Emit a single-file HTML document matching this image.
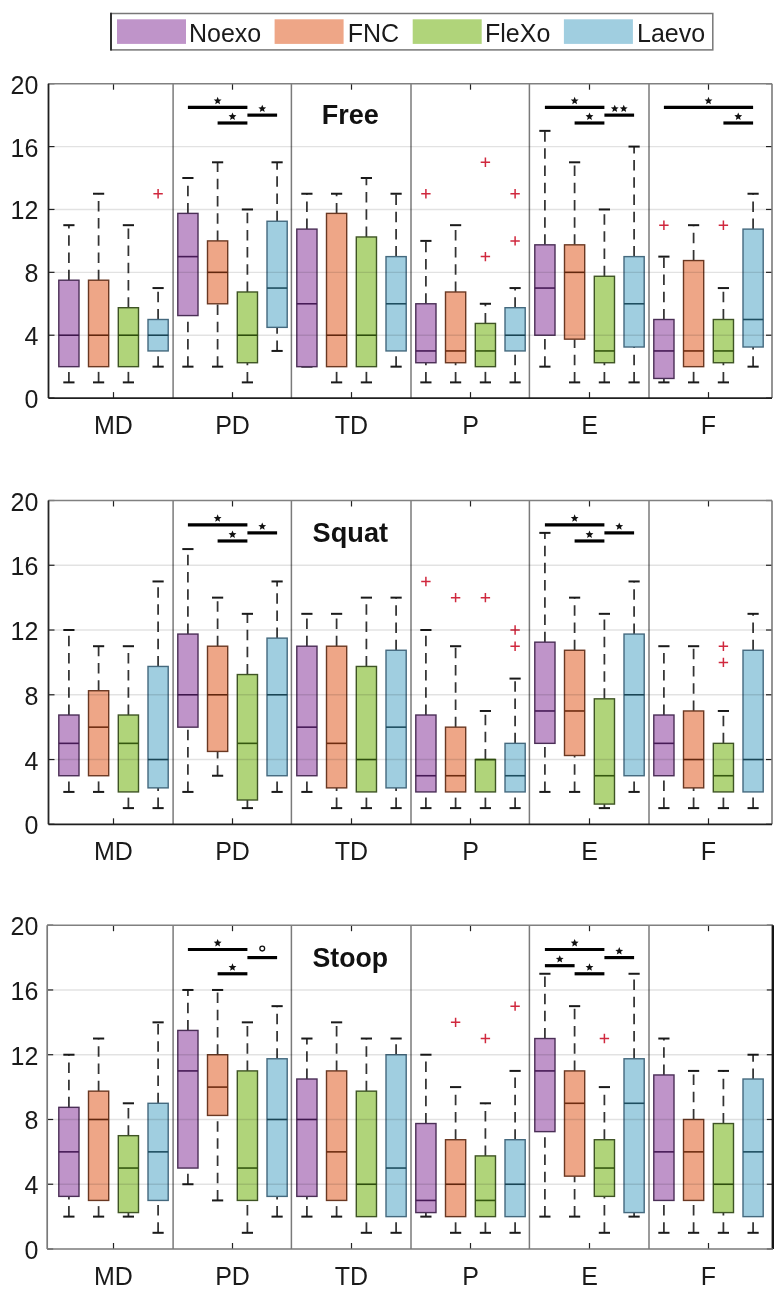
<!DOCTYPE html>
<html><head><meta charset="utf-8"><style>
html,body{margin:0;padding:0;background:#fff;}
svg{display:block;will-change:transform;}
.lab{font-family:"Liberation Sans",sans-serif;font-size:25px;fill:#1a1a1a;}
.ttl{font-family:"Liberation Sans",sans-serif;font-size:28px;font-weight:bold;fill:#111;}
</style></head><body>
<svg width="782" height="1293" viewBox="0 0 782 1293">
<rect width="782" height="1293" fill="#fff"/>
<rect x="111" y="13.5" width="601.8" height="36.4" fill="#fff" stroke="#777" stroke-width="1.5"/>
<line x1="111" y1="12.8" x2="111" y2="50.6" stroke="#222" stroke-width="1.7"/>
<rect x="117" y="19.3" width="69" height="24.6" fill="#BF94C9"/>
<text x="189" y="41.6" class="lab">Noexo</text>
<rect x="274.6" y="19.3" width="69" height="24.6" fill="#EEA687"/>
<text x="347.8" y="41.6" class="lab">FNC</text>
<rect x="412.7" y="19.3" width="69" height="24.6" fill="#B0D47A"/>
<text x="485" y="41.6" class="lab">FleXo</text>
<rect x="563.9" y="19.3" width="69" height="24.6" fill="#A0CEE0"/>
<text x="637" y="41.6" class="lab">Laevo</text>
<line x1="173.1" y1="83.7" x2="173.1" y2="398.1" stroke="#7a7a7a" stroke-width="1.5"/>
<line x1="291.4" y1="83.7" x2="291.4" y2="398.1" stroke="#7a7a7a" stroke-width="1.5"/>
<line x1="411" y1="83.7" x2="411" y2="398.1" stroke="#7a7a7a" stroke-width="1.5"/>
<line x1="529.4" y1="83.7" x2="529.4" y2="398.1" stroke="#7a7a7a" stroke-width="1.5"/>
<line x1="649" y1="83.7" x2="649" y2="398.1" stroke="#7a7a7a" stroke-width="1.5"/>
<line x1="68.9" y1="280.2" x2="68.9" y2="225.18" stroke="#333333" stroke-width="1.75" stroke-dasharray="10.5 6.7"/>
<line x1="68.9" y1="382.38" x2="68.9" y2="366.66" stroke="#333333" stroke-width="1.75" stroke-dasharray="10.5 6.7"/>
<line x1="63.3" y1="225.18" x2="74.5" y2="225.18" stroke="#1a1a1a" stroke-width="2"/>
<line x1="63.3" y1="382.38" x2="74.5" y2="382.38" stroke="#1a1a1a" stroke-width="2"/>
<rect x="58.8" y="280.2" width="20.2" height="86.46" fill="#BF94C9" stroke="#4A2E56" stroke-width="1.4"/>
<line x1="58.8" y1="335.22" x2="79" y2="335.22" stroke="#461a56" stroke-width="1.6"/>
<line x1="98.6" y1="280.2" x2="98.6" y2="193.74" stroke="#333333" stroke-width="1.75" stroke-dasharray="10.5 6.7"/>
<line x1="98.6" y1="382.38" x2="98.6" y2="366.66" stroke="#333333" stroke-width="1.75" stroke-dasharray="10.5 6.7"/>
<line x1="93" y1="193.74" x2="104.2" y2="193.74" stroke="#1a1a1a" stroke-width="2"/>
<line x1="93" y1="382.38" x2="104.2" y2="382.38" stroke="#1a1a1a" stroke-width="2"/>
<rect x="88.5" y="280.2" width="20.2" height="86.46" fill="#EEA687" stroke="#6A3822" stroke-width="1.4"/>
<line x1="88.5" y1="335.22" x2="108.7" y2="335.22" stroke="#6E2C10" stroke-width="1.6"/>
<line x1="128.4" y1="307.71" x2="128.4" y2="225.18" stroke="#333333" stroke-width="1.75" stroke-dasharray="10.5 6.7"/>
<line x1="128.4" y1="382.38" x2="128.4" y2="366.66" stroke="#333333" stroke-width="1.75" stroke-dasharray="10.5 6.7"/>
<line x1="122.8" y1="225.18" x2="134" y2="225.18" stroke="#1a1a1a" stroke-width="2"/>
<line x1="122.8" y1="382.38" x2="134" y2="382.38" stroke="#1a1a1a" stroke-width="2"/>
<rect x="118.3" y="307.71" width="20.2" height="58.95" fill="#B0D47A" stroke="#3E5424" stroke-width="1.4"/>
<line x1="118.3" y1="335.22" x2="138.5" y2="335.22" stroke="#35580F" stroke-width="1.6"/>
<line x1="158.1" y1="319.5" x2="158.1" y2="288.06" stroke="#333333" stroke-width="1.75" stroke-dasharray="10.5 6.7"/>
<line x1="158.1" y1="366.66" x2="158.1" y2="350.94" stroke="#333333" stroke-width="1.75" stroke-dasharray="10.5 6.7"/>
<line x1="152.5" y1="288.06" x2="163.7" y2="288.06" stroke="#1a1a1a" stroke-width="2"/>
<line x1="152.5" y1="366.66" x2="163.7" y2="366.66" stroke="#1a1a1a" stroke-width="2"/>
<rect x="148" y="319.5" width="20.2" height="31.44" fill="#A0CEE0" stroke="#44697E" stroke-width="1.4"/>
<line x1="148" y1="335.22" x2="168.2" y2="335.22" stroke="#1E4E60" stroke-width="1.6"/>
<path d="M153.4 193.74h9.4M158.1 189.04v9.4" stroke="#D0283E" stroke-width="1.5" fill="none"/>
<line x1="187.9" y1="213.39" x2="187.9" y2="178.02" stroke="#333333" stroke-width="1.75" stroke-dasharray="10.5 6.7"/>
<line x1="187.9" y1="366.66" x2="187.9" y2="315.57" stroke="#333333" stroke-width="1.75" stroke-dasharray="10.5 6.7"/>
<line x1="182.3" y1="178.02" x2="193.5" y2="178.02" stroke="#1a1a1a" stroke-width="2"/>
<line x1="182.3" y1="366.66" x2="193.5" y2="366.66" stroke="#1a1a1a" stroke-width="2"/>
<rect x="177.8" y="213.39" width="20.2" height="102.18" fill="#BF94C9" stroke="#4A2E56" stroke-width="1.4"/>
<line x1="177.8" y1="256.62" x2="198" y2="256.62" stroke="#461a56" stroke-width="1.6"/>
<line x1="217.6" y1="240.9" x2="217.6" y2="162.3" stroke="#333333" stroke-width="1.75" stroke-dasharray="10.5 6.7"/>
<line x1="217.6" y1="366.66" x2="217.6" y2="303.78" stroke="#333333" stroke-width="1.75" stroke-dasharray="10.5 6.7"/>
<line x1="212" y1="162.3" x2="223.2" y2="162.3" stroke="#1a1a1a" stroke-width="2"/>
<line x1="212" y1="366.66" x2="223.2" y2="366.66" stroke="#1a1a1a" stroke-width="2"/>
<rect x="207.5" y="240.9" width="20.2" height="62.88" fill="#EEA687" stroke="#6A3822" stroke-width="1.4"/>
<line x1="207.5" y1="272.34" x2="227.7" y2="272.34" stroke="#6E2C10" stroke-width="1.6"/>
<line x1="247.4" y1="291.99" x2="247.4" y2="209.46" stroke="#333333" stroke-width="1.75" stroke-dasharray="10.5 6.7"/>
<line x1="247.4" y1="382.38" x2="247.4" y2="362.73" stroke="#333333" stroke-width="1.75" stroke-dasharray="10.5 6.7"/>
<line x1="241.8" y1="209.46" x2="253" y2="209.46" stroke="#1a1a1a" stroke-width="2"/>
<line x1="241.8" y1="382.38" x2="253" y2="382.38" stroke="#1a1a1a" stroke-width="2"/>
<rect x="237.3" y="291.99" width="20.2" height="70.74" fill="#B0D47A" stroke="#3E5424" stroke-width="1.4"/>
<line x1="237.3" y1="335.22" x2="257.5" y2="335.22" stroke="#35580F" stroke-width="1.6"/>
<line x1="277.1" y1="221.25" x2="277.1" y2="162.3" stroke="#333333" stroke-width="1.75" stroke-dasharray="10.5 6.7"/>
<line x1="277.1" y1="350.94" x2="277.1" y2="327.36" stroke="#333333" stroke-width="1.75" stroke-dasharray="10.5 6.7"/>
<line x1="271.5" y1="162.3" x2="282.7" y2="162.3" stroke="#1a1a1a" stroke-width="2"/>
<line x1="271.5" y1="350.94" x2="282.7" y2="350.94" stroke="#1a1a1a" stroke-width="2"/>
<rect x="267" y="221.25" width="20.2" height="106.11" fill="#A0CEE0" stroke="#44697E" stroke-width="1.4"/>
<line x1="267" y1="288.06" x2="287.2" y2="288.06" stroke="#1E4E60" stroke-width="1.6"/>
<line x1="306.9" y1="229.11" x2="306.9" y2="193.74" stroke="#333333" stroke-width="1.75" stroke-dasharray="10.5 6.7"/>
<line x1="301.3" y1="193.74" x2="312.5" y2="193.74" stroke="#1a1a1a" stroke-width="2"/>
<line x1="301.3" y1="366.66" x2="312.5" y2="366.66" stroke="#1a1a1a" stroke-width="2"/>
<rect x="296.8" y="229.11" width="20.2" height="137.55" fill="#BF94C9" stroke="#4A2E56" stroke-width="1.4"/>
<line x1="296.8" y1="303.78" x2="317" y2="303.78" stroke="#461a56" stroke-width="1.6"/>
<line x1="336.6" y1="213.39" x2="336.6" y2="193.74" stroke="#333333" stroke-width="1.75" stroke-dasharray="10.5 6.7"/>
<line x1="336.6" y1="382.38" x2="336.6" y2="366.66" stroke="#333333" stroke-width="1.75" stroke-dasharray="10.5 6.7"/>
<line x1="331" y1="193.74" x2="342.2" y2="193.74" stroke="#1a1a1a" stroke-width="2"/>
<line x1="331" y1="382.38" x2="342.2" y2="382.38" stroke="#1a1a1a" stroke-width="2"/>
<rect x="326.5" y="213.39" width="20.2" height="153.27" fill="#EEA687" stroke="#6A3822" stroke-width="1.4"/>
<line x1="326.5" y1="335.22" x2="346.7" y2="335.22" stroke="#6E2C10" stroke-width="1.6"/>
<line x1="366.4" y1="236.97" x2="366.4" y2="178.02" stroke="#333333" stroke-width="1.75" stroke-dasharray="10.5 6.7"/>
<line x1="366.4" y1="382.38" x2="366.4" y2="366.66" stroke="#333333" stroke-width="1.75" stroke-dasharray="10.5 6.7"/>
<line x1="360.8" y1="178.02" x2="372" y2="178.02" stroke="#1a1a1a" stroke-width="2"/>
<line x1="360.8" y1="382.38" x2="372" y2="382.38" stroke="#1a1a1a" stroke-width="2"/>
<rect x="356.3" y="236.97" width="20.2" height="129.69" fill="#B0D47A" stroke="#3E5424" stroke-width="1.4"/>
<line x1="356.3" y1="335.22" x2="376.5" y2="335.22" stroke="#35580F" stroke-width="1.6"/>
<line x1="396.1" y1="256.62" x2="396.1" y2="193.74" stroke="#333333" stroke-width="1.75" stroke-dasharray="10.5 6.7"/>
<line x1="396.1" y1="366.66" x2="396.1" y2="350.94" stroke="#333333" stroke-width="1.75" stroke-dasharray="10.5 6.7"/>
<line x1="390.5" y1="193.74" x2="401.7" y2="193.74" stroke="#1a1a1a" stroke-width="2"/>
<line x1="390.5" y1="366.66" x2="401.7" y2="366.66" stroke="#1a1a1a" stroke-width="2"/>
<rect x="386" y="256.62" width="20.2" height="94.32" fill="#A0CEE0" stroke="#44697E" stroke-width="1.4"/>
<line x1="386" y1="303.78" x2="406.2" y2="303.78" stroke="#1E4E60" stroke-width="1.6"/>
<line x1="425.9" y1="303.78" x2="425.9" y2="240.9" stroke="#333333" stroke-width="1.75" stroke-dasharray="10.5 6.7"/>
<line x1="425.9" y1="382.38" x2="425.9" y2="362.73" stroke="#333333" stroke-width="1.75" stroke-dasharray="10.5 6.7"/>
<line x1="420.3" y1="240.9" x2="431.5" y2="240.9" stroke="#1a1a1a" stroke-width="2"/>
<line x1="420.3" y1="382.38" x2="431.5" y2="382.38" stroke="#1a1a1a" stroke-width="2"/>
<rect x="415.8" y="303.78" width="20.2" height="58.95" fill="#BF94C9" stroke="#4A2E56" stroke-width="1.4"/>
<line x1="415.8" y1="350.94" x2="436" y2="350.94" stroke="#461a56" stroke-width="1.6"/>
<path d="M421.2 193.74h9.4M425.9 189.04v9.4" stroke="#D0283E" stroke-width="1.5" fill="none"/>
<line x1="455.6" y1="291.99" x2="455.6" y2="225.18" stroke="#333333" stroke-width="1.75" stroke-dasharray="10.5 6.7"/>
<line x1="455.6" y1="382.38" x2="455.6" y2="362.73" stroke="#333333" stroke-width="1.75" stroke-dasharray="10.5 6.7"/>
<line x1="450" y1="225.18" x2="461.2" y2="225.18" stroke="#1a1a1a" stroke-width="2"/>
<line x1="450" y1="382.38" x2="461.2" y2="382.38" stroke="#1a1a1a" stroke-width="2"/>
<rect x="445.5" y="291.99" width="20.2" height="70.74" fill="#EEA687" stroke="#6A3822" stroke-width="1.4"/>
<line x1="445.5" y1="350.94" x2="465.7" y2="350.94" stroke="#6E2C10" stroke-width="1.6"/>
<line x1="485.4" y1="323.43" x2="485.4" y2="303.78" stroke="#333333" stroke-width="1.75" stroke-dasharray="10.5 6.7"/>
<line x1="485.4" y1="382.38" x2="485.4" y2="366.66" stroke="#333333" stroke-width="1.75" stroke-dasharray="10.5 6.7"/>
<line x1="479.8" y1="303.78" x2="491" y2="303.78" stroke="#1a1a1a" stroke-width="2"/>
<line x1="479.8" y1="382.38" x2="491" y2="382.38" stroke="#1a1a1a" stroke-width="2"/>
<rect x="475.3" y="323.43" width="20.2" height="43.23" fill="#B0D47A" stroke="#3E5424" stroke-width="1.4"/>
<line x1="475.3" y1="350.94" x2="495.5" y2="350.94" stroke="#35580F" stroke-width="1.6"/>
<path d="M480.7 162.3h9.4M485.4 157.6v9.4" stroke="#D0283E" stroke-width="1.5" fill="none"/>
<path d="M480.7 256.62h9.4M485.4 251.92v9.4" stroke="#D0283E" stroke-width="1.5" fill="none"/>
<line x1="515.1" y1="307.71" x2="515.1" y2="288.06" stroke="#333333" stroke-width="1.75" stroke-dasharray="10.5 6.7"/>
<line x1="515.1" y1="382.38" x2="515.1" y2="350.94" stroke="#333333" stroke-width="1.75" stroke-dasharray="10.5 6.7"/>
<line x1="509.5" y1="288.06" x2="520.7" y2="288.06" stroke="#1a1a1a" stroke-width="2"/>
<line x1="509.5" y1="382.38" x2="520.7" y2="382.38" stroke="#1a1a1a" stroke-width="2"/>
<rect x="505" y="307.71" width="20.2" height="43.23" fill="#A0CEE0" stroke="#44697E" stroke-width="1.4"/>
<line x1="505" y1="335.22" x2="525.2" y2="335.22" stroke="#1E4E60" stroke-width="1.6"/>
<path d="M510.4 193.74h9.4M515.1 189.04v9.4" stroke="#D0283E" stroke-width="1.5" fill="none"/>
<path d="M510.4 240.9h9.4M515.1 236.2v9.4" stroke="#D0283E" stroke-width="1.5" fill="none"/>
<line x1="544.9" y1="244.83" x2="544.9" y2="130.86" stroke="#333333" stroke-width="1.75" stroke-dasharray="10.5 6.7"/>
<line x1="544.9" y1="366.66" x2="544.9" y2="335.22" stroke="#333333" stroke-width="1.75" stroke-dasharray="10.5 6.7"/>
<line x1="539.3" y1="130.86" x2="550.5" y2="130.86" stroke="#1a1a1a" stroke-width="2"/>
<line x1="539.3" y1="366.66" x2="550.5" y2="366.66" stroke="#1a1a1a" stroke-width="2"/>
<rect x="534.8" y="244.83" width="20.2" height="90.39" fill="#BF94C9" stroke="#4A2E56" stroke-width="1.4"/>
<line x1="534.8" y1="288.06" x2="555" y2="288.06" stroke="#461a56" stroke-width="1.6"/>
<line x1="574.6" y1="244.83" x2="574.6" y2="162.3" stroke="#333333" stroke-width="1.75" stroke-dasharray="10.5 6.7"/>
<line x1="574.6" y1="382.38" x2="574.6" y2="339.15" stroke="#333333" stroke-width="1.75" stroke-dasharray="10.5 6.7"/>
<line x1="569" y1="162.3" x2="580.2" y2="162.3" stroke="#1a1a1a" stroke-width="2"/>
<line x1="569" y1="382.38" x2="580.2" y2="382.38" stroke="#1a1a1a" stroke-width="2"/>
<rect x="564.5" y="244.83" width="20.2" height="94.32" fill="#EEA687" stroke="#6A3822" stroke-width="1.4"/>
<line x1="564.5" y1="272.34" x2="584.7" y2="272.34" stroke="#6E2C10" stroke-width="1.6"/>
<line x1="604.4" y1="276.27" x2="604.4" y2="209.46" stroke="#333333" stroke-width="1.75" stroke-dasharray="10.5 6.7"/>
<line x1="604.4" y1="382.38" x2="604.4" y2="362.73" stroke="#333333" stroke-width="1.75" stroke-dasharray="10.5 6.7"/>
<line x1="598.8" y1="209.46" x2="610" y2="209.46" stroke="#1a1a1a" stroke-width="2"/>
<line x1="598.8" y1="382.38" x2="610" y2="382.38" stroke="#1a1a1a" stroke-width="2"/>
<rect x="594.3" y="276.27" width="20.2" height="86.46" fill="#B0D47A" stroke="#3E5424" stroke-width="1.4"/>
<line x1="594.3" y1="350.94" x2="614.5" y2="350.94" stroke="#35580F" stroke-width="1.6"/>
<line x1="634.1" y1="256.62" x2="634.1" y2="146.58" stroke="#333333" stroke-width="1.75" stroke-dasharray="10.5 6.7"/>
<line x1="634.1" y1="382.38" x2="634.1" y2="347.01" stroke="#333333" stroke-width="1.75" stroke-dasharray="10.5 6.7"/>
<line x1="628.5" y1="146.58" x2="639.7" y2="146.58" stroke="#1a1a1a" stroke-width="2"/>
<line x1="628.5" y1="382.38" x2="639.7" y2="382.38" stroke="#1a1a1a" stroke-width="2"/>
<rect x="624" y="256.62" width="20.2" height="90.39" fill="#A0CEE0" stroke="#44697E" stroke-width="1.4"/>
<line x1="624" y1="303.78" x2="644.2" y2="303.78" stroke="#1E4E60" stroke-width="1.6"/>
<line x1="663.9" y1="319.5" x2="663.9" y2="256.62" stroke="#333333" stroke-width="1.75" stroke-dasharray="10.5 6.7"/>
<line x1="663.9" y1="382.38" x2="663.9" y2="378.45" stroke="#333333" stroke-width="1.75" stroke-dasharray="10.5 6.7"/>
<line x1="658.3" y1="256.62" x2="669.5" y2="256.62" stroke="#1a1a1a" stroke-width="2"/>
<line x1="658.3" y1="382.38" x2="669.5" y2="382.38" stroke="#1a1a1a" stroke-width="2"/>
<rect x="653.8" y="319.5" width="20.2" height="58.95" fill="#BF94C9" stroke="#4A2E56" stroke-width="1.4"/>
<line x1="653.8" y1="350.94" x2="674" y2="350.94" stroke="#461a56" stroke-width="1.6"/>
<path d="M659.2 225.18h9.4M663.9 220.48v9.4" stroke="#D0283E" stroke-width="1.5" fill="none"/>
<line x1="693.6" y1="260.55" x2="693.6" y2="225.18" stroke="#333333" stroke-width="1.75" stroke-dasharray="10.5 6.7"/>
<line x1="693.6" y1="382.38" x2="693.6" y2="366.66" stroke="#333333" stroke-width="1.75" stroke-dasharray="10.5 6.7"/>
<line x1="688" y1="225.18" x2="699.2" y2="225.18" stroke="#1a1a1a" stroke-width="2"/>
<line x1="688" y1="382.38" x2="699.2" y2="382.38" stroke="#1a1a1a" stroke-width="2"/>
<rect x="683.5" y="260.55" width="20.2" height="106.11" fill="#EEA687" stroke="#6A3822" stroke-width="1.4"/>
<line x1="683.5" y1="350.94" x2="703.7" y2="350.94" stroke="#6E2C10" stroke-width="1.6"/>
<line x1="723.4" y1="319.5" x2="723.4" y2="288.06" stroke="#333333" stroke-width="1.75" stroke-dasharray="10.5 6.7"/>
<line x1="723.4" y1="382.38" x2="723.4" y2="362.73" stroke="#333333" stroke-width="1.75" stroke-dasharray="10.5 6.7"/>
<line x1="717.8" y1="288.06" x2="729" y2="288.06" stroke="#1a1a1a" stroke-width="2"/>
<line x1="717.8" y1="382.38" x2="729" y2="382.38" stroke="#1a1a1a" stroke-width="2"/>
<rect x="713.3" y="319.5" width="20.2" height="43.23" fill="#B0D47A" stroke="#3E5424" stroke-width="1.4"/>
<line x1="713.3" y1="350.94" x2="733.5" y2="350.94" stroke="#35580F" stroke-width="1.6"/>
<path d="M718.7 225.18h9.4M723.4 220.48v9.4" stroke="#D0283E" stroke-width="1.5" fill="none"/>
<line x1="753.1" y1="229.11" x2="753.1" y2="193.74" stroke="#333333" stroke-width="1.75" stroke-dasharray="10.5 6.7"/>
<line x1="753.1" y1="366.66" x2="753.1" y2="347.01" stroke="#333333" stroke-width="1.75" stroke-dasharray="10.5 6.7"/>
<line x1="747.5" y1="193.74" x2="758.7" y2="193.74" stroke="#1a1a1a" stroke-width="2"/>
<line x1="747.5" y1="366.66" x2="758.7" y2="366.66" stroke="#1a1a1a" stroke-width="2"/>
<rect x="743" y="229.11" width="20.2" height="117.9" fill="#A0CEE0" stroke="#44697E" stroke-width="1.4"/>
<line x1="743" y1="319.5" x2="763.2" y2="319.5" stroke="#1E4E60" stroke-width="1.6"/>
<line x1="48.5" y1="335.22" x2="772" y2="335.22" stroke="#000" stroke-opacity="0.115" stroke-width="1.4"/>
<line x1="48.5" y1="272.34" x2="772" y2="272.34" stroke="#000" stroke-opacity="0.115" stroke-width="1.4"/>
<line x1="48.5" y1="209.46" x2="772" y2="209.46" stroke="#000" stroke-opacity="0.115" stroke-width="1.4"/>
<line x1="48.5" y1="146.58" x2="772" y2="146.58" stroke="#000" stroke-opacity="0.115" stroke-width="1.4"/>
<line x1="187.9" y1="107.28" x2="247.4" y2="107.28" stroke="#000" stroke-width="3.2"/>
<polygon points="217.65,96.78 218.73,99.39 221.55,99.61 219.4,101.45 220.06,104.2 217.65,102.72 215.24,104.2 215.9,101.45 213.75,99.61 216.57,99.39" fill="#111"/>
<line x1="217.6" y1="123" x2="247.4" y2="123" stroke="#000" stroke-width="3.2"/>
<polygon points="232.5,112.5 233.58,115.11 236.4,115.33 234.25,117.17 234.91,119.92 232.5,118.44 230.09,119.92 230.75,117.17 228.6,115.33 231.42,115.11" fill="#111"/>
<line x1="247.4" y1="115.14" x2="277.1" y2="115.14" stroke="#000" stroke-width="3.2"/>
<polygon points="262.25,104.64 263.33,107.25 266.15,107.47 264,109.31 264.66,112.06 262.25,110.58 259.84,112.06 260.5,109.31 258.35,107.47 261.17,107.25" fill="#111"/>
<line x1="544.9" y1="107.28" x2="604.4" y2="107.28" stroke="#000" stroke-width="3.2"/>
<polygon points="574.65,96.78 575.73,99.39 578.55,99.61 576.4,101.45 577.06,104.2 574.65,102.72 572.24,104.2 572.9,101.45 570.75,99.61 573.57,99.39" fill="#111"/>
<line x1="574.6" y1="123" x2="604.4" y2="123" stroke="#000" stroke-width="3.2"/>
<polygon points="589.5,112.5 590.58,115.11 593.4,115.33 591.25,117.17 591.91,119.92 589.5,118.44 587.09,119.92 587.75,117.17 585.6,115.33 588.42,115.11" fill="#111"/>
<line x1="604.4" y1="115.14" x2="634.1" y2="115.14" stroke="#000" stroke-width="3.2"/>
<polygon points="614.75,104.64 615.83,107.25 618.65,107.47 616.5,109.31 617.16,112.06 614.75,110.58 612.34,112.06 613,109.31 610.85,107.47 613.67,107.25" fill="#111"/>
<polygon points="623.75,104.64 624.83,107.25 627.65,107.47 625.5,109.31 626.16,112.06 623.75,110.58 621.34,112.06 622,109.31 619.85,107.47 622.67,107.25" fill="#111"/>
<line x1="663.9" y1="107.28" x2="753.1" y2="107.28" stroke="#000" stroke-width="3.2"/>
<polygon points="708.5,96.78 709.58,99.39 712.4,99.61 710.25,101.45 710.91,104.2 708.5,102.72 706.09,104.2 706.75,101.45 704.6,99.61 707.42,99.39" fill="#111"/>
<line x1="723.4" y1="123" x2="753.1" y2="123" stroke="#000" stroke-width="3.2"/>
<polygon points="738.25,112.5 739.33,115.11 742.15,115.33 740,117.17 740.66,119.92 738.25,118.44 735.84,119.92 736.5,117.17 734.35,115.33 737.17,115.11" fill="#111"/>
<line x1="48.5" y1="398.1" x2="54.5" y2="398.1" stroke="#222" stroke-width="1.2"/>
<line x1="766" y1="398.1" x2="772" y2="398.1" stroke="#222" stroke-width="1.2"/>
<line x1="48.5" y1="335.22" x2="54.5" y2="335.22" stroke="#222" stroke-width="1.2"/>
<line x1="766" y1="335.22" x2="772" y2="335.22" stroke="#222" stroke-width="1.2"/>
<line x1="48.5" y1="272.34" x2="54.5" y2="272.34" stroke="#222" stroke-width="1.2"/>
<line x1="766" y1="272.34" x2="772" y2="272.34" stroke="#222" stroke-width="1.2"/>
<line x1="48.5" y1="209.46" x2="54.5" y2="209.46" stroke="#222" stroke-width="1.2"/>
<line x1="766" y1="209.46" x2="772" y2="209.46" stroke="#222" stroke-width="1.2"/>
<line x1="48.5" y1="146.58" x2="54.5" y2="146.58" stroke="#222" stroke-width="1.2"/>
<line x1="766" y1="146.58" x2="772" y2="146.58" stroke="#222" stroke-width="1.2"/>
<line x1="48.5" y1="83.7" x2="54.5" y2="83.7" stroke="#222" stroke-width="1.2"/>
<line x1="766" y1="83.7" x2="772" y2="83.7" stroke="#222" stroke-width="1.2"/>
<line x1="113.5" y1="398.1" x2="113.5" y2="392.1" stroke="#222" stroke-width="1.2"/>
<line x1="113.5" y1="83.7" x2="113.5" y2="89.7" stroke="#222" stroke-width="1.2"/>
<line x1="232.5" y1="398.1" x2="232.5" y2="392.1" stroke="#222" stroke-width="1.2"/>
<line x1="232.5" y1="83.7" x2="232.5" y2="89.7" stroke="#222" stroke-width="1.2"/>
<line x1="351.5" y1="398.1" x2="351.5" y2="392.1" stroke="#222" stroke-width="1.2"/>
<line x1="351.5" y1="83.7" x2="351.5" y2="89.7" stroke="#222" stroke-width="1.2"/>
<line x1="470.5" y1="398.1" x2="470.5" y2="392.1" stroke="#222" stroke-width="1.2"/>
<line x1="470.5" y1="83.7" x2="470.5" y2="89.7" stroke="#222" stroke-width="1.2"/>
<line x1="589.5" y1="398.1" x2="589.5" y2="392.1" stroke="#222" stroke-width="1.2"/>
<line x1="589.5" y1="83.7" x2="589.5" y2="89.7" stroke="#222" stroke-width="1.2"/>
<line x1="708.5" y1="398.1" x2="708.5" y2="392.1" stroke="#222" stroke-width="1.2"/>
<line x1="708.5" y1="83.7" x2="708.5" y2="89.7" stroke="#222" stroke-width="1.2"/>
<line x1="48.5" y1="83.7" x2="772" y2="83.7" stroke="#808080" stroke-width="1.5"/>
<line x1="772" y1="83.7" x2="772" y2="398.1" stroke="#7a7a7a" stroke-width="1.6"/>
<line x1="48.5" y1="398.1" x2="772" y2="398.1" stroke="#1f1f1f" stroke-width="1.8"/>
<line x1="48.5" y1="83.7" x2="48.5" y2="398.1" stroke="#1f1f1f" stroke-width="1.8"/>
<text x="38.4" y="408.1" text-anchor="end" class="lab">0</text>
<text x="38.4" y="345.22" text-anchor="end" class="lab">4</text>
<text x="38.4" y="282.34" text-anchor="end" class="lab">8</text>
<text x="38.4" y="219.46" text-anchor="end" class="lab">12</text>
<text x="38.4" y="156.58" text-anchor="end" class="lab">16</text>
<text x="38.4" y="93.7" text-anchor="end" class="lab">20</text>
<text x="113.5" y="434.1" text-anchor="middle" class="lab">MD</text>
<text x="232.5" y="434.1" text-anchor="middle" class="lab">PD</text>
<text x="351.5" y="434.1" text-anchor="middle" class="lab">TD</text>
<text x="470.5" y="434.1" text-anchor="middle" class="lab">P</text>
<text x="589.5" y="434.1" text-anchor="middle" class="lab">E</text>
<text x="708.5" y="434.1" text-anchor="middle" class="lab">F</text>
<text x="350.3" y="124.4" text-anchor="middle" class="ttl" textLength="57" lengthAdjust="spacingAndGlyphs">Free</text>
<line x1="173.1" y1="500.5" x2="173.1" y2="824.3" stroke="#7a7a7a" stroke-width="1.5"/>
<line x1="291.4" y1="500.5" x2="291.4" y2="824.3" stroke="#7a7a7a" stroke-width="1.5"/>
<line x1="411" y1="500.5" x2="411" y2="824.3" stroke="#7a7a7a" stroke-width="1.5"/>
<line x1="529.4" y1="500.5" x2="529.4" y2="824.3" stroke="#7a7a7a" stroke-width="1.5"/>
<line x1="649" y1="500.5" x2="649" y2="824.3" stroke="#7a7a7a" stroke-width="1.5"/>
<line x1="68.9" y1="715.02" x2="68.9" y2="630.02" stroke="#333333" stroke-width="1.75" stroke-dasharray="10.5 6.7"/>
<line x1="68.9" y1="791.92" x2="68.9" y2="775.73" stroke="#333333" stroke-width="1.75" stroke-dasharray="10.5 6.7"/>
<line x1="63.3" y1="630.02" x2="74.5" y2="630.02" stroke="#1a1a1a" stroke-width="2"/>
<line x1="63.3" y1="791.92" x2="74.5" y2="791.92" stroke="#1a1a1a" stroke-width="2"/>
<rect x="58.8" y="715.02" width="20.2" height="60.71" fill="#BF94C9" stroke="#4A2E56" stroke-width="1.4"/>
<line x1="58.8" y1="743.35" x2="79" y2="743.35" stroke="#461a56" stroke-width="1.6"/>
<line x1="98.6" y1="690.73" x2="98.6" y2="646.21" stroke="#333333" stroke-width="1.75" stroke-dasharray="10.5 6.7"/>
<line x1="98.6" y1="791.92" x2="98.6" y2="775.73" stroke="#333333" stroke-width="1.75" stroke-dasharray="10.5 6.7"/>
<line x1="93" y1="646.21" x2="104.2" y2="646.21" stroke="#1a1a1a" stroke-width="2"/>
<line x1="93" y1="791.92" x2="104.2" y2="791.92" stroke="#1a1a1a" stroke-width="2"/>
<rect x="88.5" y="690.73" width="20.2" height="85" fill="#EEA687" stroke="#6A3822" stroke-width="1.4"/>
<line x1="88.5" y1="727.16" x2="108.7" y2="727.16" stroke="#6E2C10" stroke-width="1.6"/>
<line x1="128.4" y1="715.02" x2="128.4" y2="646.21" stroke="#333333" stroke-width="1.75" stroke-dasharray="10.5 6.7"/>
<line x1="128.4" y1="808.11" x2="128.4" y2="791.92" stroke="#333333" stroke-width="1.75" stroke-dasharray="10.5 6.7"/>
<line x1="122.8" y1="646.21" x2="134" y2="646.21" stroke="#1a1a1a" stroke-width="2"/>
<line x1="122.8" y1="808.11" x2="134" y2="808.11" stroke="#1a1a1a" stroke-width="2"/>
<rect x="118.3" y="715.02" width="20.2" height="76.9" fill="#B0D47A" stroke="#3E5424" stroke-width="1.4"/>
<line x1="118.3" y1="743.35" x2="138.5" y2="743.35" stroke="#35580F" stroke-width="1.6"/>
<line x1="158.1" y1="666.45" x2="158.1" y2="581.45" stroke="#333333" stroke-width="1.75" stroke-dasharray="10.5 6.7"/>
<line x1="158.1" y1="808.11" x2="158.1" y2="787.87" stroke="#333333" stroke-width="1.75" stroke-dasharray="10.5 6.7"/>
<line x1="152.5" y1="581.45" x2="163.7" y2="581.45" stroke="#1a1a1a" stroke-width="2"/>
<line x1="152.5" y1="808.11" x2="163.7" y2="808.11" stroke="#1a1a1a" stroke-width="2"/>
<rect x="148" y="666.45" width="20.2" height="121.42" fill="#A0CEE0" stroke="#44697E" stroke-width="1.4"/>
<line x1="148" y1="759.54" x2="168.2" y2="759.54" stroke="#1E4E60" stroke-width="1.6"/>
<line x1="187.9" y1="634.07" x2="187.9" y2="549.07" stroke="#333333" stroke-width="1.75" stroke-dasharray="10.5 6.7"/>
<line x1="187.9" y1="791.92" x2="187.9" y2="727.16" stroke="#333333" stroke-width="1.75" stroke-dasharray="10.5 6.7"/>
<line x1="182.3" y1="549.07" x2="193.5" y2="549.07" stroke="#1a1a1a" stroke-width="2"/>
<line x1="182.3" y1="791.92" x2="193.5" y2="791.92" stroke="#1a1a1a" stroke-width="2"/>
<rect x="177.8" y="634.07" width="20.2" height="93.09" fill="#BF94C9" stroke="#4A2E56" stroke-width="1.4"/>
<line x1="177.8" y1="694.78" x2="198" y2="694.78" stroke="#461a56" stroke-width="1.6"/>
<line x1="217.6" y1="646.21" x2="217.6" y2="597.64" stroke="#333333" stroke-width="1.75" stroke-dasharray="10.5 6.7"/>
<line x1="217.6" y1="775.73" x2="217.6" y2="751.44" stroke="#333333" stroke-width="1.75" stroke-dasharray="10.5 6.7"/>
<line x1="212" y1="597.64" x2="223.2" y2="597.64" stroke="#1a1a1a" stroke-width="2"/>
<line x1="212" y1="775.73" x2="223.2" y2="775.73" stroke="#1a1a1a" stroke-width="2"/>
<rect x="207.5" y="646.21" width="20.2" height="105.23" fill="#EEA687" stroke="#6A3822" stroke-width="1.4"/>
<line x1="207.5" y1="694.78" x2="227.7" y2="694.78" stroke="#6E2C10" stroke-width="1.6"/>
<line x1="247.4" y1="674.54" x2="247.4" y2="613.83" stroke="#333333" stroke-width="1.75" stroke-dasharray="10.5 6.7"/>
<line x1="247.4" y1="808.11" x2="247.4" y2="800.01" stroke="#333333" stroke-width="1.75" stroke-dasharray="10.5 6.7"/>
<line x1="241.8" y1="613.83" x2="253" y2="613.83" stroke="#1a1a1a" stroke-width="2"/>
<line x1="241.8" y1="808.11" x2="253" y2="808.11" stroke="#1a1a1a" stroke-width="2"/>
<rect x="237.3" y="674.54" width="20.2" height="125.47" fill="#B0D47A" stroke="#3E5424" stroke-width="1.4"/>
<line x1="237.3" y1="743.35" x2="257.5" y2="743.35" stroke="#35580F" stroke-width="1.6"/>
<line x1="277.1" y1="638.12" x2="277.1" y2="581.45" stroke="#333333" stroke-width="1.75" stroke-dasharray="10.5 6.7"/>
<line x1="277.1" y1="791.92" x2="277.1" y2="775.73" stroke="#333333" stroke-width="1.75" stroke-dasharray="10.5 6.7"/>
<line x1="271.5" y1="581.45" x2="282.7" y2="581.45" stroke="#1a1a1a" stroke-width="2"/>
<line x1="271.5" y1="791.92" x2="282.7" y2="791.92" stroke="#1a1a1a" stroke-width="2"/>
<rect x="267" y="638.12" width="20.2" height="137.62" fill="#A0CEE0" stroke="#44697E" stroke-width="1.4"/>
<line x1="267" y1="694.78" x2="287.2" y2="694.78" stroke="#1E4E60" stroke-width="1.6"/>
<line x1="306.9" y1="646.21" x2="306.9" y2="613.83" stroke="#333333" stroke-width="1.75" stroke-dasharray="10.5 6.7"/>
<line x1="306.9" y1="791.92" x2="306.9" y2="775.73" stroke="#333333" stroke-width="1.75" stroke-dasharray="10.5 6.7"/>
<line x1="301.3" y1="613.83" x2="312.5" y2="613.83" stroke="#1a1a1a" stroke-width="2"/>
<line x1="301.3" y1="791.92" x2="312.5" y2="791.92" stroke="#1a1a1a" stroke-width="2"/>
<rect x="296.8" y="646.21" width="20.2" height="129.52" fill="#BF94C9" stroke="#4A2E56" stroke-width="1.4"/>
<line x1="296.8" y1="727.16" x2="317" y2="727.16" stroke="#461a56" stroke-width="1.6"/>
<line x1="336.6" y1="646.21" x2="336.6" y2="613.83" stroke="#333333" stroke-width="1.75" stroke-dasharray="10.5 6.7"/>
<line x1="336.6" y1="808.11" x2="336.6" y2="787.87" stroke="#333333" stroke-width="1.75" stroke-dasharray="10.5 6.7"/>
<line x1="331" y1="613.83" x2="342.2" y2="613.83" stroke="#1a1a1a" stroke-width="2"/>
<line x1="331" y1="808.11" x2="342.2" y2="808.11" stroke="#1a1a1a" stroke-width="2"/>
<rect x="326.5" y="646.21" width="20.2" height="141.66" fill="#EEA687" stroke="#6A3822" stroke-width="1.4"/>
<line x1="326.5" y1="743.35" x2="346.7" y2="743.35" stroke="#6E2C10" stroke-width="1.6"/>
<line x1="366.4" y1="666.45" x2="366.4" y2="597.64" stroke="#333333" stroke-width="1.75" stroke-dasharray="10.5 6.7"/>
<line x1="366.4" y1="808.11" x2="366.4" y2="791.92" stroke="#333333" stroke-width="1.75" stroke-dasharray="10.5 6.7"/>
<line x1="360.8" y1="597.64" x2="372" y2="597.64" stroke="#1a1a1a" stroke-width="2"/>
<line x1="360.8" y1="808.11" x2="372" y2="808.11" stroke="#1a1a1a" stroke-width="2"/>
<rect x="356.3" y="666.45" width="20.2" height="125.47" fill="#B0D47A" stroke="#3E5424" stroke-width="1.4"/>
<line x1="356.3" y1="759.54" x2="376.5" y2="759.54" stroke="#35580F" stroke-width="1.6"/>
<line x1="396.1" y1="650.26" x2="396.1" y2="597.64" stroke="#333333" stroke-width="1.75" stroke-dasharray="10.5 6.7"/>
<line x1="396.1" y1="808.11" x2="396.1" y2="787.87" stroke="#333333" stroke-width="1.75" stroke-dasharray="10.5 6.7"/>
<line x1="390.5" y1="597.64" x2="401.7" y2="597.64" stroke="#1a1a1a" stroke-width="2"/>
<line x1="390.5" y1="808.11" x2="401.7" y2="808.11" stroke="#1a1a1a" stroke-width="2"/>
<rect x="386" y="650.26" width="20.2" height="137.62" fill="#A0CEE0" stroke="#44697E" stroke-width="1.4"/>
<line x1="386" y1="727.16" x2="406.2" y2="727.16" stroke="#1E4E60" stroke-width="1.6"/>
<line x1="425.9" y1="715.02" x2="425.9" y2="630.02" stroke="#333333" stroke-width="1.75" stroke-dasharray="10.5 6.7"/>
<line x1="425.9" y1="808.11" x2="425.9" y2="791.92" stroke="#333333" stroke-width="1.75" stroke-dasharray="10.5 6.7"/>
<line x1="420.3" y1="630.02" x2="431.5" y2="630.02" stroke="#1a1a1a" stroke-width="2"/>
<line x1="420.3" y1="808.11" x2="431.5" y2="808.11" stroke="#1a1a1a" stroke-width="2"/>
<rect x="415.8" y="715.02" width="20.2" height="76.9" fill="#BF94C9" stroke="#4A2E56" stroke-width="1.4"/>
<line x1="415.8" y1="775.73" x2="436" y2="775.73" stroke="#461a56" stroke-width="1.6"/>
<path d="M421.2 581.45h9.4M425.9 576.75v9.4" stroke="#D0283E" stroke-width="1.5" fill="none"/>
<line x1="455.6" y1="727.16" x2="455.6" y2="646.21" stroke="#333333" stroke-width="1.75" stroke-dasharray="10.5 6.7"/>
<line x1="455.6" y1="808.11" x2="455.6" y2="791.92" stroke="#333333" stroke-width="1.75" stroke-dasharray="10.5 6.7"/>
<line x1="450" y1="646.21" x2="461.2" y2="646.21" stroke="#1a1a1a" stroke-width="2"/>
<line x1="450" y1="808.11" x2="461.2" y2="808.11" stroke="#1a1a1a" stroke-width="2"/>
<rect x="445.5" y="727.16" width="20.2" height="64.76" fill="#EEA687" stroke="#6A3822" stroke-width="1.4"/>
<line x1="445.5" y1="775.73" x2="465.7" y2="775.73" stroke="#6E2C10" stroke-width="1.6"/>
<path d="M450.9 597.64h9.4M455.6 592.94v9.4" stroke="#D0283E" stroke-width="1.5" fill="none"/>
<line x1="485.4" y1="759.54" x2="485.4" y2="710.97" stroke="#333333" stroke-width="1.75" stroke-dasharray="10.5 6.7"/>
<line x1="485.4" y1="808.11" x2="485.4" y2="791.92" stroke="#333333" stroke-width="1.75" stroke-dasharray="10.5 6.7"/>
<line x1="479.8" y1="710.97" x2="491" y2="710.97" stroke="#1a1a1a" stroke-width="2"/>
<line x1="479.8" y1="808.11" x2="491" y2="808.11" stroke="#1a1a1a" stroke-width="2"/>
<rect x="475.3" y="759.54" width="20.2" height="32.38" fill="#B0D47A" stroke="#3E5424" stroke-width="1.4"/>
<line x1="475.3" y1="759.54" x2="495.5" y2="759.54" stroke="#35580F" stroke-width="1.6"/>
<path d="M480.7 597.64h9.4M485.4 592.94v9.4" stroke="#D0283E" stroke-width="1.5" fill="none"/>
<line x1="515.1" y1="743.35" x2="515.1" y2="678.59" stroke="#333333" stroke-width="1.75" stroke-dasharray="10.5 6.7"/>
<line x1="515.1" y1="808.11" x2="515.1" y2="791.92" stroke="#333333" stroke-width="1.75" stroke-dasharray="10.5 6.7"/>
<line x1="509.5" y1="678.59" x2="520.7" y2="678.59" stroke="#1a1a1a" stroke-width="2"/>
<line x1="509.5" y1="808.11" x2="520.7" y2="808.11" stroke="#1a1a1a" stroke-width="2"/>
<rect x="505" y="743.35" width="20.2" height="48.57" fill="#A0CEE0" stroke="#44697E" stroke-width="1.4"/>
<line x1="505" y1="775.73" x2="525.2" y2="775.73" stroke="#1E4E60" stroke-width="1.6"/>
<path d="M510.4 630.02h9.4M515.1 625.32v9.4" stroke="#D0283E" stroke-width="1.5" fill="none"/>
<path d="M510.4 646.21h9.4M515.1 641.51v9.4" stroke="#D0283E" stroke-width="1.5" fill="none"/>
<line x1="544.9" y1="642.16" x2="544.9" y2="532.88" stroke="#333333" stroke-width="1.75" stroke-dasharray="10.5 6.7"/>
<line x1="544.9" y1="791.92" x2="544.9" y2="743.35" stroke="#333333" stroke-width="1.75" stroke-dasharray="10.5 6.7"/>
<line x1="539.3" y1="532.88" x2="550.5" y2="532.88" stroke="#1a1a1a" stroke-width="2"/>
<line x1="539.3" y1="791.92" x2="550.5" y2="791.92" stroke="#1a1a1a" stroke-width="2"/>
<rect x="534.8" y="642.16" width="20.2" height="101.19" fill="#BF94C9" stroke="#4A2E56" stroke-width="1.4"/>
<line x1="534.8" y1="710.97" x2="555" y2="710.97" stroke="#461a56" stroke-width="1.6"/>
<line x1="574.6" y1="650.26" x2="574.6" y2="597.64" stroke="#333333" stroke-width="1.75" stroke-dasharray="10.5 6.7"/>
<line x1="574.6" y1="791.92" x2="574.6" y2="755.49" stroke="#333333" stroke-width="1.75" stroke-dasharray="10.5 6.7"/>
<line x1="569" y1="597.64" x2="580.2" y2="597.64" stroke="#1a1a1a" stroke-width="2"/>
<line x1="569" y1="791.92" x2="580.2" y2="791.92" stroke="#1a1a1a" stroke-width="2"/>
<rect x="564.5" y="650.26" width="20.2" height="105.24" fill="#EEA687" stroke="#6A3822" stroke-width="1.4"/>
<line x1="564.5" y1="710.97" x2="584.7" y2="710.97" stroke="#6E2C10" stroke-width="1.6"/>
<line x1="604.4" y1="698.83" x2="604.4" y2="613.83" stroke="#333333" stroke-width="1.75" stroke-dasharray="10.5 6.7"/>
<line x1="604.4" y1="808.11" x2="604.4" y2="804.06" stroke="#333333" stroke-width="1.75" stroke-dasharray="10.5 6.7"/>
<line x1="598.8" y1="613.83" x2="610" y2="613.83" stroke="#1a1a1a" stroke-width="2"/>
<line x1="598.8" y1="808.11" x2="610" y2="808.11" stroke="#1a1a1a" stroke-width="2"/>
<rect x="594.3" y="698.83" width="20.2" height="105.24" fill="#B0D47A" stroke="#3E5424" stroke-width="1.4"/>
<line x1="594.3" y1="775.73" x2="614.5" y2="775.73" stroke="#35580F" stroke-width="1.6"/>
<line x1="634.1" y1="634.07" x2="634.1" y2="581.45" stroke="#333333" stroke-width="1.75" stroke-dasharray="10.5 6.7"/>
<line x1="634.1" y1="791.92" x2="634.1" y2="775.73" stroke="#333333" stroke-width="1.75" stroke-dasharray="10.5 6.7"/>
<line x1="628.5" y1="581.45" x2="639.7" y2="581.45" stroke="#1a1a1a" stroke-width="2"/>
<line x1="628.5" y1="791.92" x2="639.7" y2="791.92" stroke="#1a1a1a" stroke-width="2"/>
<rect x="624" y="634.07" width="20.2" height="141.66" fill="#A0CEE0" stroke="#44697E" stroke-width="1.4"/>
<line x1="624" y1="694.78" x2="644.2" y2="694.78" stroke="#1E4E60" stroke-width="1.6"/>
<line x1="663.9" y1="715.02" x2="663.9" y2="646.21" stroke="#333333" stroke-width="1.75" stroke-dasharray="10.5 6.7"/>
<line x1="663.9" y1="808.11" x2="663.9" y2="775.73" stroke="#333333" stroke-width="1.75" stroke-dasharray="10.5 6.7"/>
<line x1="658.3" y1="646.21" x2="669.5" y2="646.21" stroke="#1a1a1a" stroke-width="2"/>
<line x1="658.3" y1="808.11" x2="669.5" y2="808.11" stroke="#1a1a1a" stroke-width="2"/>
<rect x="653.8" y="715.02" width="20.2" height="60.71" fill="#BF94C9" stroke="#4A2E56" stroke-width="1.4"/>
<line x1="653.8" y1="743.35" x2="674" y2="743.35" stroke="#461a56" stroke-width="1.6"/>
<line x1="693.6" y1="710.97" x2="693.6" y2="646.21" stroke="#333333" stroke-width="1.75" stroke-dasharray="10.5 6.7"/>
<line x1="693.6" y1="808.11" x2="693.6" y2="787.87" stroke="#333333" stroke-width="1.75" stroke-dasharray="10.5 6.7"/>
<line x1="688" y1="646.21" x2="699.2" y2="646.21" stroke="#1a1a1a" stroke-width="2"/>
<line x1="688" y1="808.11" x2="699.2" y2="808.11" stroke="#1a1a1a" stroke-width="2"/>
<rect x="683.5" y="710.97" width="20.2" height="76.9" fill="#EEA687" stroke="#6A3822" stroke-width="1.4"/>
<line x1="683.5" y1="759.54" x2="703.7" y2="759.54" stroke="#6E2C10" stroke-width="1.6"/>
<line x1="723.4" y1="743.35" x2="723.4" y2="710.97" stroke="#333333" stroke-width="1.75" stroke-dasharray="10.5 6.7"/>
<line x1="723.4" y1="808.11" x2="723.4" y2="791.92" stroke="#333333" stroke-width="1.75" stroke-dasharray="10.5 6.7"/>
<line x1="717.8" y1="710.97" x2="729" y2="710.97" stroke="#1a1a1a" stroke-width="2"/>
<line x1="717.8" y1="808.11" x2="729" y2="808.11" stroke="#1a1a1a" stroke-width="2"/>
<rect x="713.3" y="743.35" width="20.2" height="48.57" fill="#B0D47A" stroke="#3E5424" stroke-width="1.4"/>
<line x1="713.3" y1="775.73" x2="733.5" y2="775.73" stroke="#35580F" stroke-width="1.6"/>
<path d="M718.7 646.21h9.4M723.4 641.51v9.4" stroke="#D0283E" stroke-width="1.5" fill="none"/>
<path d="M718.7 662.4h9.4M723.4 657.7v9.4" stroke="#D0283E" stroke-width="1.5" fill="none"/>
<line x1="753.1" y1="650.26" x2="753.1" y2="613.83" stroke="#333333" stroke-width="1.75" stroke-dasharray="10.5 6.7"/>
<line x1="753.1" y1="808.11" x2="753.1" y2="791.92" stroke="#333333" stroke-width="1.75" stroke-dasharray="10.5 6.7"/>
<line x1="747.5" y1="613.83" x2="758.7" y2="613.83" stroke="#1a1a1a" stroke-width="2"/>
<line x1="747.5" y1="808.11" x2="758.7" y2="808.11" stroke="#1a1a1a" stroke-width="2"/>
<rect x="743" y="650.26" width="20.2" height="141.66" fill="#A0CEE0" stroke="#44697E" stroke-width="1.4"/>
<line x1="743" y1="759.54" x2="763.2" y2="759.54" stroke="#1E4E60" stroke-width="1.6"/>
<line x1="48.5" y1="759.54" x2="772" y2="759.54" stroke="#000" stroke-opacity="0.115" stroke-width="1.4"/>
<line x1="48.5" y1="694.78" x2="772" y2="694.78" stroke="#000" stroke-opacity="0.115" stroke-width="1.4"/>
<line x1="48.5" y1="630.02" x2="772" y2="630.02" stroke="#000" stroke-opacity="0.115" stroke-width="1.4"/>
<line x1="48.5" y1="565.26" x2="772" y2="565.26" stroke="#000" stroke-opacity="0.115" stroke-width="1.4"/>
<line x1="187.9" y1="524.78" x2="247.4" y2="524.78" stroke="#000" stroke-width="3.2"/>
<polygon points="217.65,514.28 218.73,516.89 221.55,517.12 219.4,518.96 220.06,521.7 217.65,520.23 215.24,521.7 215.9,518.96 213.75,517.12 216.57,516.89" fill="#111"/>
<line x1="217.6" y1="540.98" x2="247.4" y2="540.98" stroke="#000" stroke-width="3.2"/>
<polygon points="232.5,530.48 233.58,533.08 236.4,533.31 234.25,535.15 234.91,537.89 232.5,536.42 230.09,537.89 230.75,535.15 228.6,533.31 231.42,533.08" fill="#111"/>
<line x1="247.4" y1="532.88" x2="277.1" y2="532.88" stroke="#000" stroke-width="3.2"/>
<polygon points="262.25,522.38 263.33,524.99 266.15,525.21 264,527.05 264.66,529.8 262.25,528.33 259.84,529.8 260.5,527.05 258.35,525.21 261.17,524.99" fill="#111"/>
<line x1="544.9" y1="524.78" x2="604.4" y2="524.78" stroke="#000" stroke-width="3.2"/>
<polygon points="574.65,514.28 575.73,516.89 578.55,517.12 576.4,518.96 577.06,521.7 574.65,520.23 572.24,521.7 572.9,518.96 570.75,517.12 573.57,516.89" fill="#111"/>
<line x1="574.6" y1="540.98" x2="604.4" y2="540.98" stroke="#000" stroke-width="3.2"/>
<polygon points="589.5,530.48 590.58,533.08 593.4,533.31 591.25,535.15 591.91,537.89 589.5,536.42 587.09,537.89 587.75,535.15 585.6,533.31 588.42,533.08" fill="#111"/>
<line x1="604.4" y1="532.88" x2="634.1" y2="532.88" stroke="#000" stroke-width="3.2"/>
<polygon points="619.25,522.38 620.33,524.99 623.15,525.21 621,527.05 621.66,529.8 619.25,528.33 616.84,529.8 617.5,527.05 615.35,525.21 618.17,524.99" fill="#111"/>
<line x1="48.5" y1="824.3" x2="54.5" y2="824.3" stroke="#222" stroke-width="1.2"/>
<line x1="766" y1="824.3" x2="772" y2="824.3" stroke="#222" stroke-width="1.2"/>
<line x1="48.5" y1="759.54" x2="54.5" y2="759.54" stroke="#222" stroke-width="1.2"/>
<line x1="766" y1="759.54" x2="772" y2="759.54" stroke="#222" stroke-width="1.2"/>
<line x1="48.5" y1="694.78" x2="54.5" y2="694.78" stroke="#222" stroke-width="1.2"/>
<line x1="766" y1="694.78" x2="772" y2="694.78" stroke="#222" stroke-width="1.2"/>
<line x1="48.5" y1="630.02" x2="54.5" y2="630.02" stroke="#222" stroke-width="1.2"/>
<line x1="766" y1="630.02" x2="772" y2="630.02" stroke="#222" stroke-width="1.2"/>
<line x1="48.5" y1="565.26" x2="54.5" y2="565.26" stroke="#222" stroke-width="1.2"/>
<line x1="766" y1="565.26" x2="772" y2="565.26" stroke="#222" stroke-width="1.2"/>
<line x1="48.5" y1="500.5" x2="54.5" y2="500.5" stroke="#222" stroke-width="1.2"/>
<line x1="766" y1="500.5" x2="772" y2="500.5" stroke="#222" stroke-width="1.2"/>
<line x1="113.5" y1="824.3" x2="113.5" y2="818.3" stroke="#222" stroke-width="1.2"/>
<line x1="113.5" y1="500.5" x2="113.5" y2="506.5" stroke="#222" stroke-width="1.2"/>
<line x1="232.5" y1="824.3" x2="232.5" y2="818.3" stroke="#222" stroke-width="1.2"/>
<line x1="232.5" y1="500.5" x2="232.5" y2="506.5" stroke="#222" stroke-width="1.2"/>
<line x1="351.5" y1="824.3" x2="351.5" y2="818.3" stroke="#222" stroke-width="1.2"/>
<line x1="351.5" y1="500.5" x2="351.5" y2="506.5" stroke="#222" stroke-width="1.2"/>
<line x1="470.5" y1="824.3" x2="470.5" y2="818.3" stroke="#222" stroke-width="1.2"/>
<line x1="470.5" y1="500.5" x2="470.5" y2="506.5" stroke="#222" stroke-width="1.2"/>
<line x1="589.5" y1="824.3" x2="589.5" y2="818.3" stroke="#222" stroke-width="1.2"/>
<line x1="589.5" y1="500.5" x2="589.5" y2="506.5" stroke="#222" stroke-width="1.2"/>
<line x1="708.5" y1="824.3" x2="708.5" y2="818.3" stroke="#222" stroke-width="1.2"/>
<line x1="708.5" y1="500.5" x2="708.5" y2="506.5" stroke="#222" stroke-width="1.2"/>
<line x1="48.5" y1="500.5" x2="772" y2="500.5" stroke="#808080" stroke-width="1.5"/>
<line x1="772" y1="500.5" x2="772" y2="824.3" stroke="#7a7a7a" stroke-width="1.6"/>
<line x1="48.5" y1="824.3" x2="772" y2="824.3" stroke="#1f1f1f" stroke-width="1.8"/>
<line x1="48.5" y1="500.5" x2="48.5" y2="824.3" stroke="#262626" stroke-width="1.8"/>
<text x="38.4" y="834.3" text-anchor="end" class="lab">0</text>
<text x="38.4" y="769.54" text-anchor="end" class="lab">4</text>
<text x="38.4" y="704.78" text-anchor="end" class="lab">8</text>
<text x="38.4" y="640.02" text-anchor="end" class="lab">12</text>
<text x="38.4" y="575.26" text-anchor="end" class="lab">16</text>
<text x="38.4" y="510.5" text-anchor="end" class="lab">20</text>
<text x="113.5" y="860.3" text-anchor="middle" class="lab">MD</text>
<text x="232.5" y="860.3" text-anchor="middle" class="lab">PD</text>
<text x="351.5" y="860.3" text-anchor="middle" class="lab">TD</text>
<text x="470.5" y="860.3" text-anchor="middle" class="lab">P</text>
<text x="589.5" y="860.3" text-anchor="middle" class="lab">E</text>
<text x="708.5" y="860.3" text-anchor="middle" class="lab">F</text>
<text x="350.3" y="542.3" text-anchor="middle" class="ttl" textLength="75.5" lengthAdjust="spacingAndGlyphs">Squat</text>
<line x1="173.1" y1="925.2" x2="173.1" y2="1249" stroke="#7a7a7a" stroke-width="1.5"/>
<line x1="291.4" y1="925.2" x2="291.4" y2="1249" stroke="#7a7a7a" stroke-width="1.5"/>
<line x1="411" y1="925.2" x2="411" y2="1249" stroke="#7a7a7a" stroke-width="1.5"/>
<line x1="529.4" y1="925.2" x2="529.4" y2="1249" stroke="#7a7a7a" stroke-width="1.5"/>
<line x1="649" y1="925.2" x2="649" y2="1249" stroke="#7a7a7a" stroke-width="1.5"/>
<line x1="68.9" y1="1107.34" x2="68.9" y2="1054.72" stroke="#333333" stroke-width="1.75" stroke-dasharray="10.5 6.7"/>
<line x1="68.9" y1="1216.62" x2="68.9" y2="1196.38" stroke="#333333" stroke-width="1.75" stroke-dasharray="10.5 6.7"/>
<line x1="63.3" y1="1054.72" x2="74.5" y2="1054.72" stroke="#1a1a1a" stroke-width="2"/>
<line x1="63.3" y1="1216.62" x2="74.5" y2="1216.62" stroke="#1a1a1a" stroke-width="2"/>
<rect x="58.8" y="1107.34" width="20.2" height="89.04" fill="#BF94C9" stroke="#4A2E56" stroke-width="1.4"/>
<line x1="58.8" y1="1151.86" x2="79" y2="1151.86" stroke="#461a56" stroke-width="1.6"/>
<line x1="98.6" y1="1091.15" x2="98.6" y2="1038.53" stroke="#333333" stroke-width="1.75" stroke-dasharray="10.5 6.7"/>
<line x1="98.6" y1="1216.62" x2="98.6" y2="1200.43" stroke="#333333" stroke-width="1.75" stroke-dasharray="10.5 6.7"/>
<line x1="93" y1="1038.53" x2="104.2" y2="1038.53" stroke="#1a1a1a" stroke-width="2"/>
<line x1="93" y1="1216.62" x2="104.2" y2="1216.62" stroke="#1a1a1a" stroke-width="2"/>
<rect x="88.5" y="1091.15" width="20.2" height="109.28" fill="#EEA687" stroke="#6A3822" stroke-width="1.4"/>
<line x1="88.5" y1="1119.48" x2="108.7" y2="1119.48" stroke="#6E2C10" stroke-width="1.6"/>
<line x1="128.4" y1="1135.67" x2="128.4" y2="1103.29" stroke="#333333" stroke-width="1.75" stroke-dasharray="10.5 6.7"/>
<line x1="128.4" y1="1216.62" x2="128.4" y2="1212.57" stroke="#333333" stroke-width="1.75" stroke-dasharray="10.5 6.7"/>
<line x1="122.8" y1="1103.29" x2="134" y2="1103.29" stroke="#1a1a1a" stroke-width="2"/>
<line x1="122.8" y1="1216.62" x2="134" y2="1216.62" stroke="#1a1a1a" stroke-width="2"/>
<rect x="118.3" y="1135.67" width="20.2" height="76.9" fill="#B0D47A" stroke="#3E5424" stroke-width="1.4"/>
<line x1="118.3" y1="1168.05" x2="138.5" y2="1168.05" stroke="#35580F" stroke-width="1.6"/>
<line x1="158.1" y1="1103.29" x2="158.1" y2="1022.34" stroke="#333333" stroke-width="1.75" stroke-dasharray="10.5 6.7"/>
<line x1="158.1" y1="1232.81" x2="158.1" y2="1200.43" stroke="#333333" stroke-width="1.75" stroke-dasharray="10.5 6.7"/>
<line x1="152.5" y1="1022.34" x2="163.7" y2="1022.34" stroke="#1a1a1a" stroke-width="2"/>
<line x1="152.5" y1="1232.81" x2="163.7" y2="1232.81" stroke="#1a1a1a" stroke-width="2"/>
<rect x="148" y="1103.29" width="20.2" height="97.14" fill="#A0CEE0" stroke="#44697E" stroke-width="1.4"/>
<line x1="148" y1="1151.86" x2="168.2" y2="1151.86" stroke="#1E4E60" stroke-width="1.6"/>
<line x1="187.9" y1="1030.43" x2="187.9" y2="989.96" stroke="#333333" stroke-width="1.75" stroke-dasharray="10.5 6.7"/>
<line x1="187.9" y1="1184.24" x2="187.9" y2="1168.05" stroke="#333333" stroke-width="1.75" stroke-dasharray="10.5 6.7"/>
<line x1="182.3" y1="989.96" x2="193.5" y2="989.96" stroke="#1a1a1a" stroke-width="2"/>
<line x1="182.3" y1="1184.24" x2="193.5" y2="1184.24" stroke="#1a1a1a" stroke-width="2"/>
<rect x="177.8" y="1030.43" width="20.2" height="137.62" fill="#BF94C9" stroke="#4A2E56" stroke-width="1.4"/>
<line x1="177.8" y1="1070.91" x2="198" y2="1070.91" stroke="#461a56" stroke-width="1.6"/>
<line x1="217.6" y1="1054.72" x2="217.6" y2="989.96" stroke="#333333" stroke-width="1.75" stroke-dasharray="10.5 6.7"/>
<line x1="217.6" y1="1200.43" x2="217.6" y2="1115.43" stroke="#333333" stroke-width="1.75" stroke-dasharray="10.5 6.7"/>
<line x1="212" y1="989.96" x2="223.2" y2="989.96" stroke="#1a1a1a" stroke-width="2"/>
<line x1="212" y1="1200.43" x2="223.2" y2="1200.43" stroke="#1a1a1a" stroke-width="2"/>
<rect x="207.5" y="1054.72" width="20.2" height="60.71" fill="#EEA687" stroke="#6A3822" stroke-width="1.4"/>
<line x1="207.5" y1="1087.1" x2="227.7" y2="1087.1" stroke="#6E2C10" stroke-width="1.6"/>
<line x1="247.4" y1="1070.91" x2="247.4" y2="1022.34" stroke="#333333" stroke-width="1.75" stroke-dasharray="10.5 6.7"/>
<line x1="247.4" y1="1232.81" x2="247.4" y2="1200.43" stroke="#333333" stroke-width="1.75" stroke-dasharray="10.5 6.7"/>
<line x1="241.8" y1="1022.34" x2="253" y2="1022.34" stroke="#1a1a1a" stroke-width="2"/>
<line x1="241.8" y1="1232.81" x2="253" y2="1232.81" stroke="#1a1a1a" stroke-width="2"/>
<rect x="237.3" y="1070.91" width="20.2" height="129.52" fill="#B0D47A" stroke="#3E5424" stroke-width="1.4"/>
<line x1="237.3" y1="1168.05" x2="257.5" y2="1168.05" stroke="#35580F" stroke-width="1.6"/>
<line x1="277.1" y1="1058.77" x2="277.1" y2="1006.15" stroke="#333333" stroke-width="1.75" stroke-dasharray="10.5 6.7"/>
<line x1="277.1" y1="1216.62" x2="277.1" y2="1196.38" stroke="#333333" stroke-width="1.75" stroke-dasharray="10.5 6.7"/>
<line x1="271.5" y1="1006.15" x2="282.7" y2="1006.15" stroke="#1a1a1a" stroke-width="2"/>
<line x1="271.5" y1="1216.62" x2="282.7" y2="1216.62" stroke="#1a1a1a" stroke-width="2"/>
<rect x="267" y="1058.77" width="20.2" height="137.62" fill="#A0CEE0" stroke="#44697E" stroke-width="1.4"/>
<line x1="267" y1="1119.48" x2="287.2" y2="1119.48" stroke="#1E4E60" stroke-width="1.6"/>
<line x1="306.9" y1="1079.01" x2="306.9" y2="1038.53" stroke="#333333" stroke-width="1.75" stroke-dasharray="10.5 6.7"/>
<line x1="306.9" y1="1216.62" x2="306.9" y2="1196.38" stroke="#333333" stroke-width="1.75" stroke-dasharray="10.5 6.7"/>
<line x1="301.3" y1="1038.53" x2="312.5" y2="1038.53" stroke="#1a1a1a" stroke-width="2"/>
<line x1="301.3" y1="1216.62" x2="312.5" y2="1216.62" stroke="#1a1a1a" stroke-width="2"/>
<rect x="296.8" y="1079.01" width="20.2" height="117.38" fill="#BF94C9" stroke="#4A2E56" stroke-width="1.4"/>
<line x1="296.8" y1="1119.48" x2="317" y2="1119.48" stroke="#461a56" stroke-width="1.6"/>
<line x1="336.6" y1="1070.91" x2="336.6" y2="1022.34" stroke="#333333" stroke-width="1.75" stroke-dasharray="10.5 6.7"/>
<line x1="336.6" y1="1216.62" x2="336.6" y2="1200.43" stroke="#333333" stroke-width="1.75" stroke-dasharray="10.5 6.7"/>
<line x1="331" y1="1022.34" x2="342.2" y2="1022.34" stroke="#1a1a1a" stroke-width="2"/>
<line x1="331" y1="1216.62" x2="342.2" y2="1216.62" stroke="#1a1a1a" stroke-width="2"/>
<rect x="326.5" y="1070.91" width="20.2" height="129.52" fill="#EEA687" stroke="#6A3822" stroke-width="1.4"/>
<line x1="326.5" y1="1151.86" x2="346.7" y2="1151.86" stroke="#6E2C10" stroke-width="1.6"/>
<line x1="366.4" y1="1091.15" x2="366.4" y2="1038.53" stroke="#333333" stroke-width="1.75" stroke-dasharray="10.5 6.7"/>
<line x1="366.4" y1="1232.81" x2="366.4" y2="1216.62" stroke="#333333" stroke-width="1.75" stroke-dasharray="10.5 6.7"/>
<line x1="360.8" y1="1038.53" x2="372" y2="1038.53" stroke="#1a1a1a" stroke-width="2"/>
<line x1="360.8" y1="1232.81" x2="372" y2="1232.81" stroke="#1a1a1a" stroke-width="2"/>
<rect x="356.3" y="1091.15" width="20.2" height="125.47" fill="#B0D47A" stroke="#3E5424" stroke-width="1.4"/>
<line x1="356.3" y1="1184.24" x2="376.5" y2="1184.24" stroke="#35580F" stroke-width="1.6"/>
<line x1="396.1" y1="1054.72" x2="396.1" y2="1038.53" stroke="#333333" stroke-width="1.75" stroke-dasharray="10.5 6.7"/>
<line x1="396.1" y1="1232.81" x2="396.1" y2="1216.62" stroke="#333333" stroke-width="1.75" stroke-dasharray="10.5 6.7"/>
<line x1="390.5" y1="1038.53" x2="401.7" y2="1038.53" stroke="#1a1a1a" stroke-width="2"/>
<line x1="390.5" y1="1232.81" x2="401.7" y2="1232.81" stroke="#1a1a1a" stroke-width="2"/>
<rect x="386" y="1054.72" width="20.2" height="161.9" fill="#A0CEE0" stroke="#44697E" stroke-width="1.4"/>
<line x1="386" y1="1168.05" x2="406.2" y2="1168.05" stroke="#1E4E60" stroke-width="1.6"/>
<line x1="425.9" y1="1123.53" x2="425.9" y2="1054.72" stroke="#333333" stroke-width="1.75" stroke-dasharray="10.5 6.7"/>
<line x1="425.9" y1="1216.62" x2="425.9" y2="1212.57" stroke="#333333" stroke-width="1.75" stroke-dasharray="10.5 6.7"/>
<line x1="420.3" y1="1054.72" x2="431.5" y2="1054.72" stroke="#1a1a1a" stroke-width="2"/>
<line x1="420.3" y1="1216.62" x2="431.5" y2="1216.62" stroke="#1a1a1a" stroke-width="2"/>
<rect x="415.8" y="1123.53" width="20.2" height="89.05" fill="#BF94C9" stroke="#4A2E56" stroke-width="1.4"/>
<line x1="415.8" y1="1200.43" x2="436" y2="1200.43" stroke="#461a56" stroke-width="1.6"/>
<line x1="455.6" y1="1139.72" x2="455.6" y2="1087.1" stroke="#333333" stroke-width="1.75" stroke-dasharray="10.5 6.7"/>
<line x1="455.6" y1="1232.81" x2="455.6" y2="1216.62" stroke="#333333" stroke-width="1.75" stroke-dasharray="10.5 6.7"/>
<line x1="450" y1="1087.1" x2="461.2" y2="1087.1" stroke="#1a1a1a" stroke-width="2"/>
<line x1="450" y1="1232.81" x2="461.2" y2="1232.81" stroke="#1a1a1a" stroke-width="2"/>
<rect x="445.5" y="1139.72" width="20.2" height="76.9" fill="#EEA687" stroke="#6A3822" stroke-width="1.4"/>
<line x1="445.5" y1="1184.24" x2="465.7" y2="1184.24" stroke="#6E2C10" stroke-width="1.6"/>
<path d="M450.9 1022.34h9.4M455.6 1017.64v9.4" stroke="#D0283E" stroke-width="1.5" fill="none"/>
<line x1="485.4" y1="1155.91" x2="485.4" y2="1103.29" stroke="#333333" stroke-width="1.75" stroke-dasharray="10.5 6.7"/>
<line x1="485.4" y1="1232.81" x2="485.4" y2="1216.62" stroke="#333333" stroke-width="1.75" stroke-dasharray="10.5 6.7"/>
<line x1="479.8" y1="1103.29" x2="491" y2="1103.29" stroke="#1a1a1a" stroke-width="2"/>
<line x1="479.8" y1="1232.81" x2="491" y2="1232.81" stroke="#1a1a1a" stroke-width="2"/>
<rect x="475.3" y="1155.91" width="20.2" height="60.71" fill="#B0D47A" stroke="#3E5424" stroke-width="1.4"/>
<line x1="475.3" y1="1200.43" x2="495.5" y2="1200.43" stroke="#35580F" stroke-width="1.6"/>
<path d="M480.7 1038.53h9.4M485.4 1033.83v9.4" stroke="#D0283E" stroke-width="1.5" fill="none"/>
<line x1="515.1" y1="1139.72" x2="515.1" y2="1070.91" stroke="#333333" stroke-width="1.75" stroke-dasharray="10.5 6.7"/>
<line x1="515.1" y1="1232.81" x2="515.1" y2="1216.62" stroke="#333333" stroke-width="1.75" stroke-dasharray="10.5 6.7"/>
<line x1="509.5" y1="1070.91" x2="520.7" y2="1070.91" stroke="#1a1a1a" stroke-width="2"/>
<line x1="509.5" y1="1232.81" x2="520.7" y2="1232.81" stroke="#1a1a1a" stroke-width="2"/>
<rect x="505" y="1139.72" width="20.2" height="76.9" fill="#A0CEE0" stroke="#44697E" stroke-width="1.4"/>
<line x1="505" y1="1184.24" x2="525.2" y2="1184.24" stroke="#1E4E60" stroke-width="1.6"/>
<path d="M510.4 1006.15h9.4M515.1 1001.45v9.4" stroke="#D0283E" stroke-width="1.5" fill="none"/>
<line x1="544.9" y1="1038.53" x2="544.9" y2="973.77" stroke="#333333" stroke-width="1.75" stroke-dasharray="10.5 6.7"/>
<line x1="544.9" y1="1216.62" x2="544.9" y2="1131.62" stroke="#333333" stroke-width="1.75" stroke-dasharray="10.5 6.7"/>
<line x1="539.3" y1="973.77" x2="550.5" y2="973.77" stroke="#1a1a1a" stroke-width="2"/>
<line x1="539.3" y1="1216.62" x2="550.5" y2="1216.62" stroke="#1a1a1a" stroke-width="2"/>
<rect x="534.8" y="1038.53" width="20.2" height="93.09" fill="#BF94C9" stroke="#4A2E56" stroke-width="1.4"/>
<line x1="534.8" y1="1070.91" x2="555" y2="1070.91" stroke="#461a56" stroke-width="1.6"/>
<line x1="574.6" y1="1070.91" x2="574.6" y2="1006.15" stroke="#333333" stroke-width="1.75" stroke-dasharray="10.5 6.7"/>
<line x1="574.6" y1="1216.62" x2="574.6" y2="1176.14" stroke="#333333" stroke-width="1.75" stroke-dasharray="10.5 6.7"/>
<line x1="569" y1="1006.15" x2="580.2" y2="1006.15" stroke="#1a1a1a" stroke-width="2"/>
<line x1="569" y1="1216.62" x2="580.2" y2="1216.62" stroke="#1a1a1a" stroke-width="2"/>
<rect x="564.5" y="1070.91" width="20.2" height="105.23" fill="#EEA687" stroke="#6A3822" stroke-width="1.4"/>
<line x1="564.5" y1="1103.29" x2="584.7" y2="1103.29" stroke="#6E2C10" stroke-width="1.6"/>
<line x1="604.4" y1="1139.72" x2="604.4" y2="1087.1" stroke="#333333" stroke-width="1.75" stroke-dasharray="10.5 6.7"/>
<line x1="604.4" y1="1232.81" x2="604.4" y2="1196.38" stroke="#333333" stroke-width="1.75" stroke-dasharray="10.5 6.7"/>
<line x1="598.8" y1="1087.1" x2="610" y2="1087.1" stroke="#1a1a1a" stroke-width="2"/>
<line x1="598.8" y1="1232.81" x2="610" y2="1232.81" stroke="#1a1a1a" stroke-width="2"/>
<rect x="594.3" y="1139.72" width="20.2" height="56.66" fill="#B0D47A" stroke="#3E5424" stroke-width="1.4"/>
<line x1="594.3" y1="1168.05" x2="614.5" y2="1168.05" stroke="#35580F" stroke-width="1.6"/>
<path d="M599.7 1038.53h9.4M604.4 1033.83v9.4" stroke="#D0283E" stroke-width="1.5" fill="none"/>
<line x1="634.1" y1="1058.77" x2="634.1" y2="973.77" stroke="#333333" stroke-width="1.75" stroke-dasharray="10.5 6.7"/>
<line x1="634.1" y1="1216.62" x2="634.1" y2="1212.57" stroke="#333333" stroke-width="1.75" stroke-dasharray="10.5 6.7"/>
<line x1="628.5" y1="973.77" x2="639.7" y2="973.77" stroke="#1a1a1a" stroke-width="2"/>
<line x1="628.5" y1="1216.62" x2="639.7" y2="1216.62" stroke="#1a1a1a" stroke-width="2"/>
<rect x="624" y="1058.77" width="20.2" height="153.81" fill="#A0CEE0" stroke="#44697E" stroke-width="1.4"/>
<line x1="624" y1="1103.29" x2="644.2" y2="1103.29" stroke="#1E4E60" stroke-width="1.6"/>
<line x1="663.9" y1="1074.96" x2="663.9" y2="1038.53" stroke="#333333" stroke-width="1.75" stroke-dasharray="10.5 6.7"/>
<line x1="663.9" y1="1232.81" x2="663.9" y2="1200.43" stroke="#333333" stroke-width="1.75" stroke-dasharray="10.5 6.7"/>
<line x1="658.3" y1="1038.53" x2="669.5" y2="1038.53" stroke="#1a1a1a" stroke-width="2"/>
<line x1="658.3" y1="1232.81" x2="669.5" y2="1232.81" stroke="#1a1a1a" stroke-width="2"/>
<rect x="653.8" y="1074.96" width="20.2" height="125.47" fill="#BF94C9" stroke="#4A2E56" stroke-width="1.4"/>
<line x1="653.8" y1="1151.86" x2="674" y2="1151.86" stroke="#461a56" stroke-width="1.6"/>
<line x1="693.6" y1="1119.48" x2="693.6" y2="1070.91" stroke="#333333" stroke-width="1.75" stroke-dasharray="10.5 6.7"/>
<line x1="693.6" y1="1232.81" x2="693.6" y2="1200.43" stroke="#333333" stroke-width="1.75" stroke-dasharray="10.5 6.7"/>
<line x1="688" y1="1070.91" x2="699.2" y2="1070.91" stroke="#1a1a1a" stroke-width="2"/>
<line x1="688" y1="1232.81" x2="699.2" y2="1232.81" stroke="#1a1a1a" stroke-width="2"/>
<rect x="683.5" y="1119.48" width="20.2" height="80.95" fill="#EEA687" stroke="#6A3822" stroke-width="1.4"/>
<line x1="683.5" y1="1151.86" x2="703.7" y2="1151.86" stroke="#6E2C10" stroke-width="1.6"/>
<line x1="723.4" y1="1123.53" x2="723.4" y2="1070.91" stroke="#333333" stroke-width="1.75" stroke-dasharray="10.5 6.7"/>
<line x1="723.4" y1="1232.81" x2="723.4" y2="1212.57" stroke="#333333" stroke-width="1.75" stroke-dasharray="10.5 6.7"/>
<line x1="717.8" y1="1070.91" x2="729" y2="1070.91" stroke="#1a1a1a" stroke-width="2"/>
<line x1="717.8" y1="1232.81" x2="729" y2="1232.81" stroke="#1a1a1a" stroke-width="2"/>
<rect x="713.3" y="1123.53" width="20.2" height="89.05" fill="#B0D47A" stroke="#3E5424" stroke-width="1.4"/>
<line x1="713.3" y1="1184.24" x2="733.5" y2="1184.24" stroke="#35580F" stroke-width="1.6"/>
<line x1="753.1" y1="1079.01" x2="753.1" y2="1054.72" stroke="#333333" stroke-width="1.75" stroke-dasharray="10.5 6.7"/>
<line x1="753.1" y1="1232.81" x2="753.1" y2="1216.62" stroke="#333333" stroke-width="1.75" stroke-dasharray="10.5 6.7"/>
<line x1="747.5" y1="1054.72" x2="758.7" y2="1054.72" stroke="#1a1a1a" stroke-width="2"/>
<line x1="747.5" y1="1232.81" x2="758.7" y2="1232.81" stroke="#1a1a1a" stroke-width="2"/>
<rect x="743" y="1079.01" width="20.2" height="137.61" fill="#A0CEE0" stroke="#44697E" stroke-width="1.4"/>
<line x1="743" y1="1151.86" x2="763.2" y2="1151.86" stroke="#1E4E60" stroke-width="1.6"/>
<line x1="47.2" y1="1184.24" x2="772.8" y2="1184.24" stroke="#000" stroke-opacity="0.115" stroke-width="1.4"/>
<line x1="47.2" y1="1119.48" x2="772.8" y2="1119.48" stroke="#000" stroke-opacity="0.115" stroke-width="1.4"/>
<line x1="47.2" y1="1054.72" x2="772.8" y2="1054.72" stroke="#000" stroke-opacity="0.115" stroke-width="1.4"/>
<line x1="47.2" y1="989.96" x2="772.8" y2="989.96" stroke="#000" stroke-opacity="0.115" stroke-width="1.4"/>
<line x1="187.9" y1="949.49" x2="247.4" y2="949.49" stroke="#000" stroke-width="3.2"/>
<polygon points="217.65,938.99 218.73,941.59 221.55,941.82 219.4,943.66 220.06,946.4 217.65,944.93 215.24,946.4 215.9,943.66 213.75,941.82 216.57,941.59" fill="#111"/>
<line x1="217.6" y1="973.77" x2="247.4" y2="973.77" stroke="#000" stroke-width="3.2"/>
<polygon points="232.5,963.27 233.58,965.88 236.4,966.1 234.25,967.94 234.91,970.69 232.5,969.22 230.09,970.69 230.75,967.94 228.6,966.1 231.42,965.88" fill="#111"/>
<line x1="247.4" y1="957.58" x2="277.1" y2="957.58" stroke="#000" stroke-width="3.2"/>
<circle cx="262.25" cy="948.58" r="2.4" fill="none" stroke="#111" stroke-width="1.3"/>
<line x1="544.9" y1="949.49" x2="604.4" y2="949.49" stroke="#000" stroke-width="3.2"/>
<polygon points="574.65,938.99 575.73,941.59 578.55,941.82 576.4,943.66 577.06,946.4 574.65,944.93 572.24,946.4 572.9,943.66 570.75,941.82 573.57,941.59" fill="#111"/>
<line x1="544.9" y1="965.68" x2="574.6" y2="965.68" stroke="#000" stroke-width="3.2"/>
<polygon points="559.75,955.18 560.83,957.78 563.65,958.01 561.5,959.85 562.16,962.59 559.75,961.12 557.34,962.59 558,959.85 555.85,958.01 558.67,957.78" fill="#111"/>
<line x1="574.6" y1="973.77" x2="604.4" y2="973.77" stroke="#000" stroke-width="3.2"/>
<polygon points="589.5,963.27 590.58,965.88 593.4,966.1 591.25,967.94 591.91,970.69 589.5,969.22 587.09,970.69 587.75,967.94 585.6,966.1 588.42,965.88" fill="#111"/>
<line x1="604.4" y1="957.58" x2="634.1" y2="957.58" stroke="#000" stroke-width="3.2"/>
<polygon points="619.25,947.08 620.33,949.69 623.15,949.91 621,951.75 621.66,954.5 619.25,953.03 616.84,954.5 617.5,951.75 615.35,949.91 618.17,949.69" fill="#111"/>
<line x1="47.2" y1="1249" x2="53.2" y2="1249" stroke="#222" stroke-width="1.2"/>
<line x1="766.8" y1="1249" x2="772.8" y2="1249" stroke="#222" stroke-width="1.2"/>
<line x1="47.2" y1="1184.24" x2="53.2" y2="1184.24" stroke="#222" stroke-width="1.2"/>
<line x1="766.8" y1="1184.24" x2="772.8" y2="1184.24" stroke="#222" stroke-width="1.2"/>
<line x1="47.2" y1="1119.48" x2="53.2" y2="1119.48" stroke="#222" stroke-width="1.2"/>
<line x1="766.8" y1="1119.48" x2="772.8" y2="1119.48" stroke="#222" stroke-width="1.2"/>
<line x1="47.2" y1="1054.72" x2="53.2" y2="1054.72" stroke="#222" stroke-width="1.2"/>
<line x1="766.8" y1="1054.72" x2="772.8" y2="1054.72" stroke="#222" stroke-width="1.2"/>
<line x1="47.2" y1="989.96" x2="53.2" y2="989.96" stroke="#222" stroke-width="1.2"/>
<line x1="766.8" y1="989.96" x2="772.8" y2="989.96" stroke="#222" stroke-width="1.2"/>
<line x1="47.2" y1="925.2" x2="53.2" y2="925.2" stroke="#222" stroke-width="1.2"/>
<line x1="766.8" y1="925.2" x2="772.8" y2="925.2" stroke="#222" stroke-width="1.2"/>
<line x1="113.5" y1="1249" x2="113.5" y2="1243" stroke="#222" stroke-width="1.2"/>
<line x1="113.5" y1="925.2" x2="113.5" y2="931.2" stroke="#222" stroke-width="1.2"/>
<line x1="232.5" y1="1249" x2="232.5" y2="1243" stroke="#222" stroke-width="1.2"/>
<line x1="232.5" y1="925.2" x2="232.5" y2="931.2" stroke="#222" stroke-width="1.2"/>
<line x1="351.5" y1="1249" x2="351.5" y2="1243" stroke="#222" stroke-width="1.2"/>
<line x1="351.5" y1="925.2" x2="351.5" y2="931.2" stroke="#222" stroke-width="1.2"/>
<line x1="470.5" y1="1249" x2="470.5" y2="1243" stroke="#222" stroke-width="1.2"/>
<line x1="470.5" y1="925.2" x2="470.5" y2="931.2" stroke="#222" stroke-width="1.2"/>
<line x1="589.5" y1="1249" x2="589.5" y2="1243" stroke="#222" stroke-width="1.2"/>
<line x1="589.5" y1="925.2" x2="589.5" y2="931.2" stroke="#222" stroke-width="1.2"/>
<line x1="708.5" y1="1249" x2="708.5" y2="1243" stroke="#222" stroke-width="1.2"/>
<line x1="708.5" y1="925.2" x2="708.5" y2="931.2" stroke="#222" stroke-width="1.2"/>
<line x1="47.2" y1="925.2" x2="772.8" y2="925.2" stroke="#808080" stroke-width="1.5"/>
<line x1="772.8" y1="925.2" x2="772.8" y2="1249" stroke="#151515" stroke-width="2.4"/>
<line x1="47.2" y1="1249" x2="772.8" y2="1249" stroke="#7a7a7a" stroke-width="1.7"/>
<line x1="47.2" y1="925.2" x2="47.2" y2="1249" stroke="#7a7a7a" stroke-width="1.7"/>
<text x="38.4" y="1259" text-anchor="end" class="lab">0</text>
<text x="38.4" y="1194.24" text-anchor="end" class="lab">4</text>
<text x="38.4" y="1129.48" text-anchor="end" class="lab">8</text>
<text x="38.4" y="1064.72" text-anchor="end" class="lab">12</text>
<text x="38.4" y="999.96" text-anchor="end" class="lab">16</text>
<text x="38.4" y="935.2" text-anchor="end" class="lab">20</text>
<text x="113.5" y="1285" text-anchor="middle" class="lab">MD</text>
<text x="232.5" y="1285" text-anchor="middle" class="lab">PD</text>
<text x="351.5" y="1285" text-anchor="middle" class="lab">TD</text>
<text x="470.5" y="1285" text-anchor="middle" class="lab">P</text>
<text x="589.5" y="1285" text-anchor="middle" class="lab">E</text>
<text x="708.5" y="1285" text-anchor="middle" class="lab">F</text>
<text x="350.3" y="966.9" text-anchor="middle" class="ttl" textLength="75.6" lengthAdjust="spacingAndGlyphs">Stoop</text>
</svg>
</body></html>
